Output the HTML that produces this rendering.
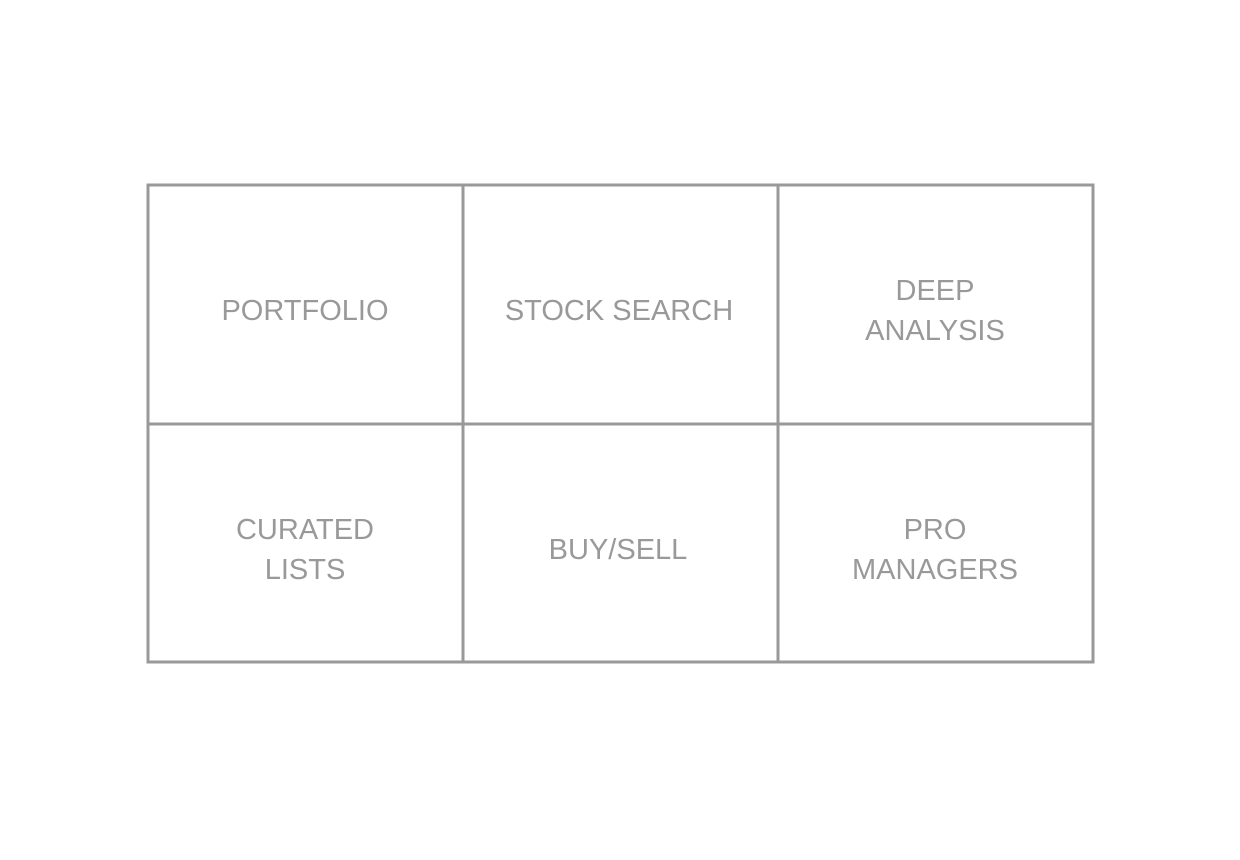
<!DOCTYPE html>
<html><head><meta charset="utf-8"><style>
html,body{margin:0;padding:0;background:#fff;}
svg{display:block}
text{font-family:"Liberation Sans",sans-serif;font-size:29px;fill:#999;text-anchor:middle;}
</style></head><body>
<svg width="1240" height="860" viewBox="0 0 1240 860">
<g stroke="#999" stroke-width="3" fill="none">
<rect x="148" y="185" width="945" height="477"/>
<line x1="463" y1="185" x2="463" y2="662"/>
<line x1="778" y1="185" x2="778" y2="662"/>
<line x1="148" y1="424" x2="1093" y2="424"/>
</g>
<text x="305" y="320">PORTFOLIO</text>
<text x="619" y="320">STOCK SEARCH</text>
<text x="935" y="300">DEEP</text>
<text x="935" y="340">ANALYSIS</text>
<text x="305" y="539">CURATED</text>
<text x="305" y="579">LISTS</text>
<text x="618" y="559">BUY/SELL</text>
<text x="935" y="539">PRO</text>
<text x="935" y="579">MANAGERS</text>
</svg>
</body></html>
